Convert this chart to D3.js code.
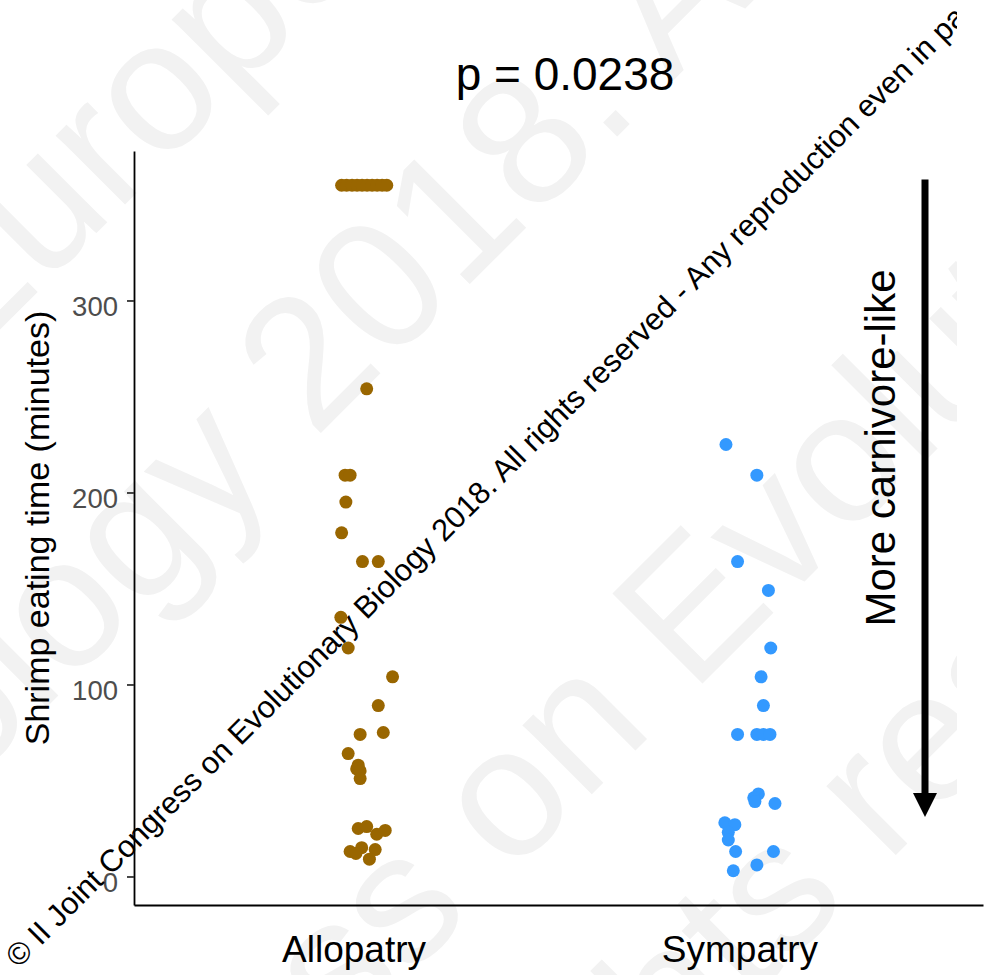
<!DOCTYPE html>
<html>
<head>
<meta charset="utf-8">
<script src="https://cdn.jsdelivr.net/npm/d3@7"></script>
<style>
   body { margin: 0; background: #fff; }
   svg { display: block; font-family: "Liberation Sans", Arial, sans-serif; }
</style>
</head>
<body>
<div class="chart"></div>
<script>
// data
const groups = ["Allopatry", "Sympatry"];
const alloTimes = [360, 360, 360, 360, 360, 360, 360, 360, 360, 360,
   254, 209, 209, 195, 179, 164, 164, 135, 119, 104, 89, 74, 75, 64,
   58, 56, 55, 51, 25, 26, 22, 24, 13, 15, 14, 12, 9];
const alloJitter = [-0.062, -0.049, -0.035, -0.022, -0.009, 0.004, 0.017, 0.030, 0.043, 0.055,
   0.003, -0.053, -0.040, -0.051, -0.062, -0.008, 0.033, -0.064, -0.045, 0.070, 0.033, -0.014, 0.046, -0.045,
   -0.019, -0.023, -0.014, -0.014, -0.019, 0.003, 0.029, 0.051, -0.040, -0.010, 0.025, -0.025, 0.010];
const sympTimes = [225, 209, 164, 149, 119, 104, 89, 74, 74, 74, 74,
   43, 41, 39, 38, 28, 27, 23, 19, 13, 13, 6, 3];
const sympJitter = [-0.066, 0.014, -0.036, 0.044, 0.050, 0.025, 0.031, -0.036, 0.014, 0.031, 0.048,
   0.018, 0.006, 0.009, 0.061, -0.069, -0.043, -0.060, -0.060, -0.041, 0.057, 0.014, -0.047];
const yTicks = [0, 100, 200, 300];
const pLabel = "p = 0.0238";
const yTitle = "Shrimp eating time (minutes)";
const arrowLabel = "More carnivore-like";
const arrowSpan = [363, 31];
const notice = "© II Joint Congress on Evolutionary Biology 2018. All rights reserved - Any reproduction even in part is forbidden";

// setup chart
const width = 986;
const height = 975;
const panel = { left: 134, right: 983, top: 151, bottom: 905 };
const colors = { Allopatry: "#996600", Sympatry: "#3399ff" };

const svg = d3.select(".chart")
   .append("svg")
   .attr("width", width)
   .attr("height", height);

// faint background watermark
const wmLines = [
   { text: "European Society for Evolutionary Biology", key: "o", s: 44, p: 233 },
   { text: "Evolutionary Biology 2018. All rights reserved", key: "2018", s: -37, p: 533 },
   { text: "II Joint Congress on Evolutionary Biology 2018", key: "Evol", s: 60, p: 980 },
   { text: "All rights reserved", key: "reserved", s: 47, p: 1238 }
];

svg.append("clipPath")
   .attr("id", "wm-clip")
   .append("rect")
   .attr("x", 0).attr("y", 0)
   .attr("width", 957).attr("height", height);

const wm = svg.append("g")
   .attr("clip-path", "url(#wm-clip)")
   .append("g")
   .attr("transform", "rotate(-45)");

wmLines.forEach((l) => {
   const t = wm.append("text")
      .attr("x", 0)
      .attr("y", l.p)
      .attr("font-size", 185)
      .attr("fill", "#f2f2f2")
      .text(l.text);
   const idx = l.text.indexOf(l.key);
   const node = t.node();
   const pre = idx > 0 ? node.getSubStringLength(0, idx) : 0;
   const cw = node.getSubStringLength(idx, 1);
   t.attr("x", l.s - pre - cw / 2);
});

// scales
const allTimes = alloTimes.concat(sympTimes);
const [lo, hi] = d3.extent(allTimes);
const pad = (hi - lo) * 0.05;
const y = d3.scaleLinear().domain([lo - pad, hi + pad]).range([panel.bottom, panel.top]);
const x = d3.scalePoint().domain(groups).range([panel.left, panel.right]).padding(0.6);

// y axis
const yAxis = svg.append("g")
   .attr("transform", `translate(${panel.left},0)`)
   .call(d3.axisLeft(y).tickValues(yTicks).tickSize(7).tickSizeOuter(0).tickPadding(9));
yAxis.select(".domain").attr("stroke", "#000").attr("stroke-width", 1.8);
yAxis.selectAll(".tick line").attr("stroke", "#333").attr("stroke-width", 1.8);
yAxis.selectAll(".tick text")
   .attr("font-size", 27.5)
   .attr("font-family", "Liberation Sans, Arial, sans-serif")
   .attr("fill", "#4d4d4d")
   .attr("dy", "0.53em");

// x axis
const xAxis = svg.append("g")
   .attr("transform", `translate(0,${panel.bottom})`)
   .call(d3.axisBottom(x).tickSize(0).tickSizeOuter(0).tickPadding(30.5));
xAxis.select(".domain").attr("stroke", "#000").attr("stroke-width", 1.8);
xAxis.selectAll(".tick text")
   .attr("font-size", 37)
   .attr("font-family", "Liberation Sans, Arial, sans-serif")
   .attr("fill", "#000")
   .attr("dx", -12);

// points
const points = alloTimes.map((v, i) => ({ g: "Allopatry", v, j: alloJitter[i] }))
   .concat(sympTimes.map((v, i) => ({ g: "Sympatry", v, j: sympJitter[i] })));

svg.append("g")
   .selectAll("circle")
   .data(points)
   .enter()
   .append("circle")
   .attr("cx", (d) => x(d.g) + d.j * x.step())
   .attr("cy", (d) => y(d.v))
   .attr("r", 6.5)
   .attr("fill", (d) => colors[d.g]);

// titles
svg.append("text")
   .attr("x", 565)
   .attr("y", 90)
   .attr("text-anchor", "middle")
   .attr("font-size", 46)
   .attr("fill", "#000")
   .text(pLabel);

svg.append("text")
   .attr("transform", "translate(48.5,528) rotate(-90)")
   .attr("text-anchor", "middle")
   .attr("font-size", 34)
   .attr("fill", "#000")
   .text(yTitle);

// arrow annotation
const ax = 925;
const tipY = y(arrowSpan[1]);
svg.append("line")
   .attr("x1", ax).attr("x2", ax)
   .attr("y1", y(arrowSpan[0]))
   .attr("y2", tipY - 20)
   .attr("stroke", "#000")
   .attr("stroke-width", 7);
svg.append("path")
   .attr("d", `M${ax - 12},${tipY - 24}L${ax + 12},${tipY - 24}L${ax},${tipY}Z`)
   .attr("fill", "#000");

svg.append("text")
   .attr("transform", "translate(895,448) rotate(-90)")
   .attr("text-anchor", "middle")
   .attr("font-size", 42)
   .attr("fill", "#000")
   .text(arrowLabel);

// diagonal notice
svg.append("g")
   .attr("clip-path", "url(#wm-clip)")
   .append("text")
   .attr("transform", "rotate(-45)")
   .attr("x", -672)
   .attr("y", 698)
   .attr("font-size", 30.85)
   .attr("fill", "#000")
   .text(notice);
</script>
</body>
</html>
